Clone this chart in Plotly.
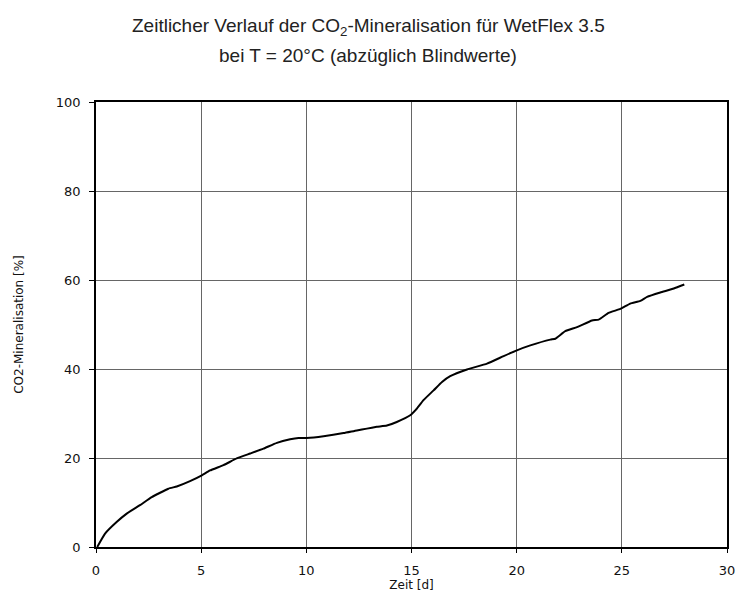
import plotly.graph_objects as go

# Time in days
zeit_d = [0.06, 0.43, 0.98, 1.46, 2.09, 2.65, 3.44, 3.84, 4.47, 5.03, 5.42, 6.06,
          6.69, 7.33, 7.96, 8.6, 9.23, 9.63, 10.02, 10.82, 11.77, 12.4, 12.88,
          13.35, 13.83, 14.3, 14.94, 15.2, 15.57, 16.05, 16.45, 16.84, 17.64,
          18.59, 19.38, 20.01, 20.65, 21.6, 21.84, 22.31, 22.87, 23.58, 23.9,
          24.37, 24.93, 25.4, 25.88, 26.2, 26.83, 27.47, 27.97]
# CO2-Mineralisation in %
co2_min = [0.0, 3.0, 5.6, 7.5, 9.4, 11.2, 13.1, 13.6, 14.8, 16.1, 17.2, 18.4,
           19.9, 21.0, 22.1, 23.4, 24.2, 24.5, 24.5, 24.9, 25.6, 26.2, 26.6,
           27.0, 27.3, 28.1, 29.6, 30.8, 33.0, 35.2, 37.1, 38.4, 39.9,
           41.2, 42.9, 44.2, 45.3, 46.6, 46.8, 48.5, 49.4, 50.9, 51.1,
           52.6, 53.5, 54.7, 55.3, 56.2, 57.2, 58.1, 59.0]

x_ticks = [0, 5, 10, 15, 20, 25, 30]
y_ticks = [0, 20, 40, 60, 80, 100]
title_lines = ["Zeitlicher Verlauf der CO<sub>2</sub>-Mineralisation für WetFlex 3.5",
               "bei T = 20°C (abzüglich Blindwerte)"]

fig = go.Figure()
fig.add_trace(go.Scatter(x=zeit_d, y=co2_min, mode="lines",
                         line=dict(color="black", width=2, shape="spline", smoothing=0.4),
                         showlegend=False))

tick_font = dict(family="DejaVu Sans", size=13, color="#111")
title_font = dict(family="DejaVu Sans", size=12, color="#111")
head_font = dict(family="Liberation Sans Narrow, Liberation Sans", size=19, color="#222")

for txt, ypos in zip(title_lines, [1.168, 1.104]):
    fig.add_annotation(text=txt, xref="paper", yref="paper", x=(368 - 96) / 630, y=ypos,
                       xanchor="center", yanchor="middle", showarrow=False, font=head_font)

fig.update_layout(
    width=736, height=598,
    margin=dict(l=96, r=9, t=102, b=51),
    paper_bgcolor="white", plot_bgcolor="white",
    xaxis=dict(range=[0, 30], tickvals=x_ticks, showgrid=True, gridcolor="#666", gridwidth=1,
               showline=True, linecolor="black", linewidth=1.5, mirror=True,
               ticks="outside", ticklen=4, tickcolor="black", zeroline=False,
               tickfont=tick_font, automargin=False, ticklabelstandoff=7,
               title=dict(text="Zeit [d]", font=title_font, standoff=3)),
    yaxis=dict(range=[0, 100], tickvals=y_ticks, showgrid=True, gridcolor="#666", gridwidth=1,
               showline=True, linecolor="black", linewidth=1.5, mirror=True,
               ticks="outside", ticklen=5, tickcolor="black", zeroline=False,
               tickfont=tick_font, automargin=False, ticklabelstandoff=6,
               title=dict(text="CO2-Mineralisation [%]", font=title_font, standoff=30)),
)

fig.write_html("out.html")
